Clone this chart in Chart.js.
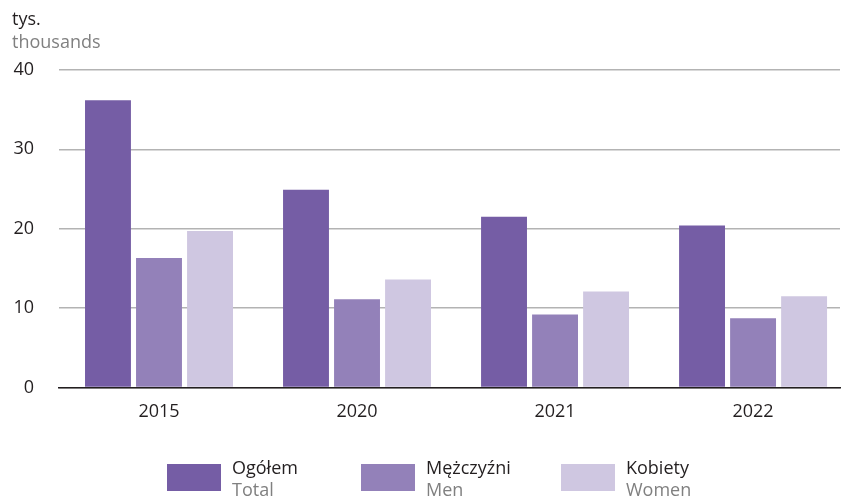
<!DOCTYPE html>
<html lang="pl">
<head>
<meta charset="UTF-8">
<title>tys.</title>
<style>
    body { margin: 0; background: #fff; font-family: "Open Sans", sans-serif; }
    .wrap { position: relative; width: 842px; height: 497px; }
    .unit { position: absolute; left: 12px; font-size: 18px; line-height: 22px; white-space: nowrap; }
    .legend-item { position: absolute; top: 456px; }
    .legend-item .box { position: absolute; left: 0; top: 8px; width: 54px; height: 27px; }
    .legend-item .txt { position: absolute; left: 65px; top: 0; font-size: 18px; line-height: 22px; white-space: nowrap; }
    .pl { color: #231f20; }
    .en { color: #808080; }
</style>
<script src="https://cdn.jsdelivr.net/npm/chart.js"></script>
</head>
<body>
<div class="wrap">
    <canvas id="chart" width="842" height="497"></canvas>
    <div class="unit pl" style="top:7px">tys.</div>
    <div class="unit en" style="top:30px">thousands</div>
    <div id="legend"></div>
</div>
<script>
    const years = ['2015', '2020', '2021', '2022'];
    const total = [36.2, 24.9, 21.5, 20.4];
    const men = [16.3, 11.1, 9.2, 8.7];
    const women = [19.7, 13.6, 12.1, 11.5];
    const seriesPl = ['Ogółem', 'Mężczyźni', 'Kobiety'];
    const seriesEn = ['Total', 'Men', 'Women'];
    const colors = ['#755da5', '#9381b9', '#cfc7e1'];
    const legendX = [167, 361, 561];

    const toPoints = arr => arr.map((v, i) => ({ x: i, y: v }));

    new Chart(document.getElementById('chart'), {
        type: 'bar',
        data: {
            datasets: [total, men, women].map((d, i) => ({
                label: seriesPl[i],
                data: toPoints(d),
                backgroundColor: colors[i],
                categoryPercentage: 0.773,
                barPercentage: 0.9
            }))
        },
        options: {
            responsive: false,
            animation: false,
            layout: { padding: { top: 70, right: 2, bottom: 60 } },
            plugins: {
                legend: { display: false },
                tooltip: { enabled: false }
            },
            scales: {
                x: {
                    type: 'linear',
                    offset: false,
                    min: -0.505,
                    max: 3.439,
                    z: 1,
                    afterBuildTicks: scale => {
                        scale.ticks = years.map((y, i) => ({ value: i }));
                    },
                    ticks: {
                        callback: v => years[v],
                        color: '#231f20',
                        padding: 14,
                        font: { family: 'Open Sans', size: 18 }
                    },
                    grid: { display: false, drawTicks: false },
                    border: { color: '#231f20', width: 1.5 }
                },
                y: {
                    min: 0,
                    max: 40,
                    ticks: {
                        stepSize: 10,
                        color: '#231f20',
                        padding: 25,
                        font: { family: 'Open Sans', size: 18 }
                    },
                    afterFit: scale => { scale.width = 59; },
                    grid: { color: '#b3b3b3', lineWidth: 1.5, drawTicks: false },
                    border: { display: false }
                }
            }
        }
    });

    const legend = document.getElementById('legend');
    seriesPl.forEach((name, i) => {
        const item = document.createElement('div');
        item.className = 'legend-item';
        item.style.left = legendX[i] + 'px';
        item.innerHTML = '<div class="box" style="background:' + colors[i] + '"></div>' +
            '<div class="txt"><div class="pl">' + name + '</div><div class="en">' + seriesEn[i] + '</div></div>';
        legend.appendChild(item);
    });
</script>
</body>
</html>
